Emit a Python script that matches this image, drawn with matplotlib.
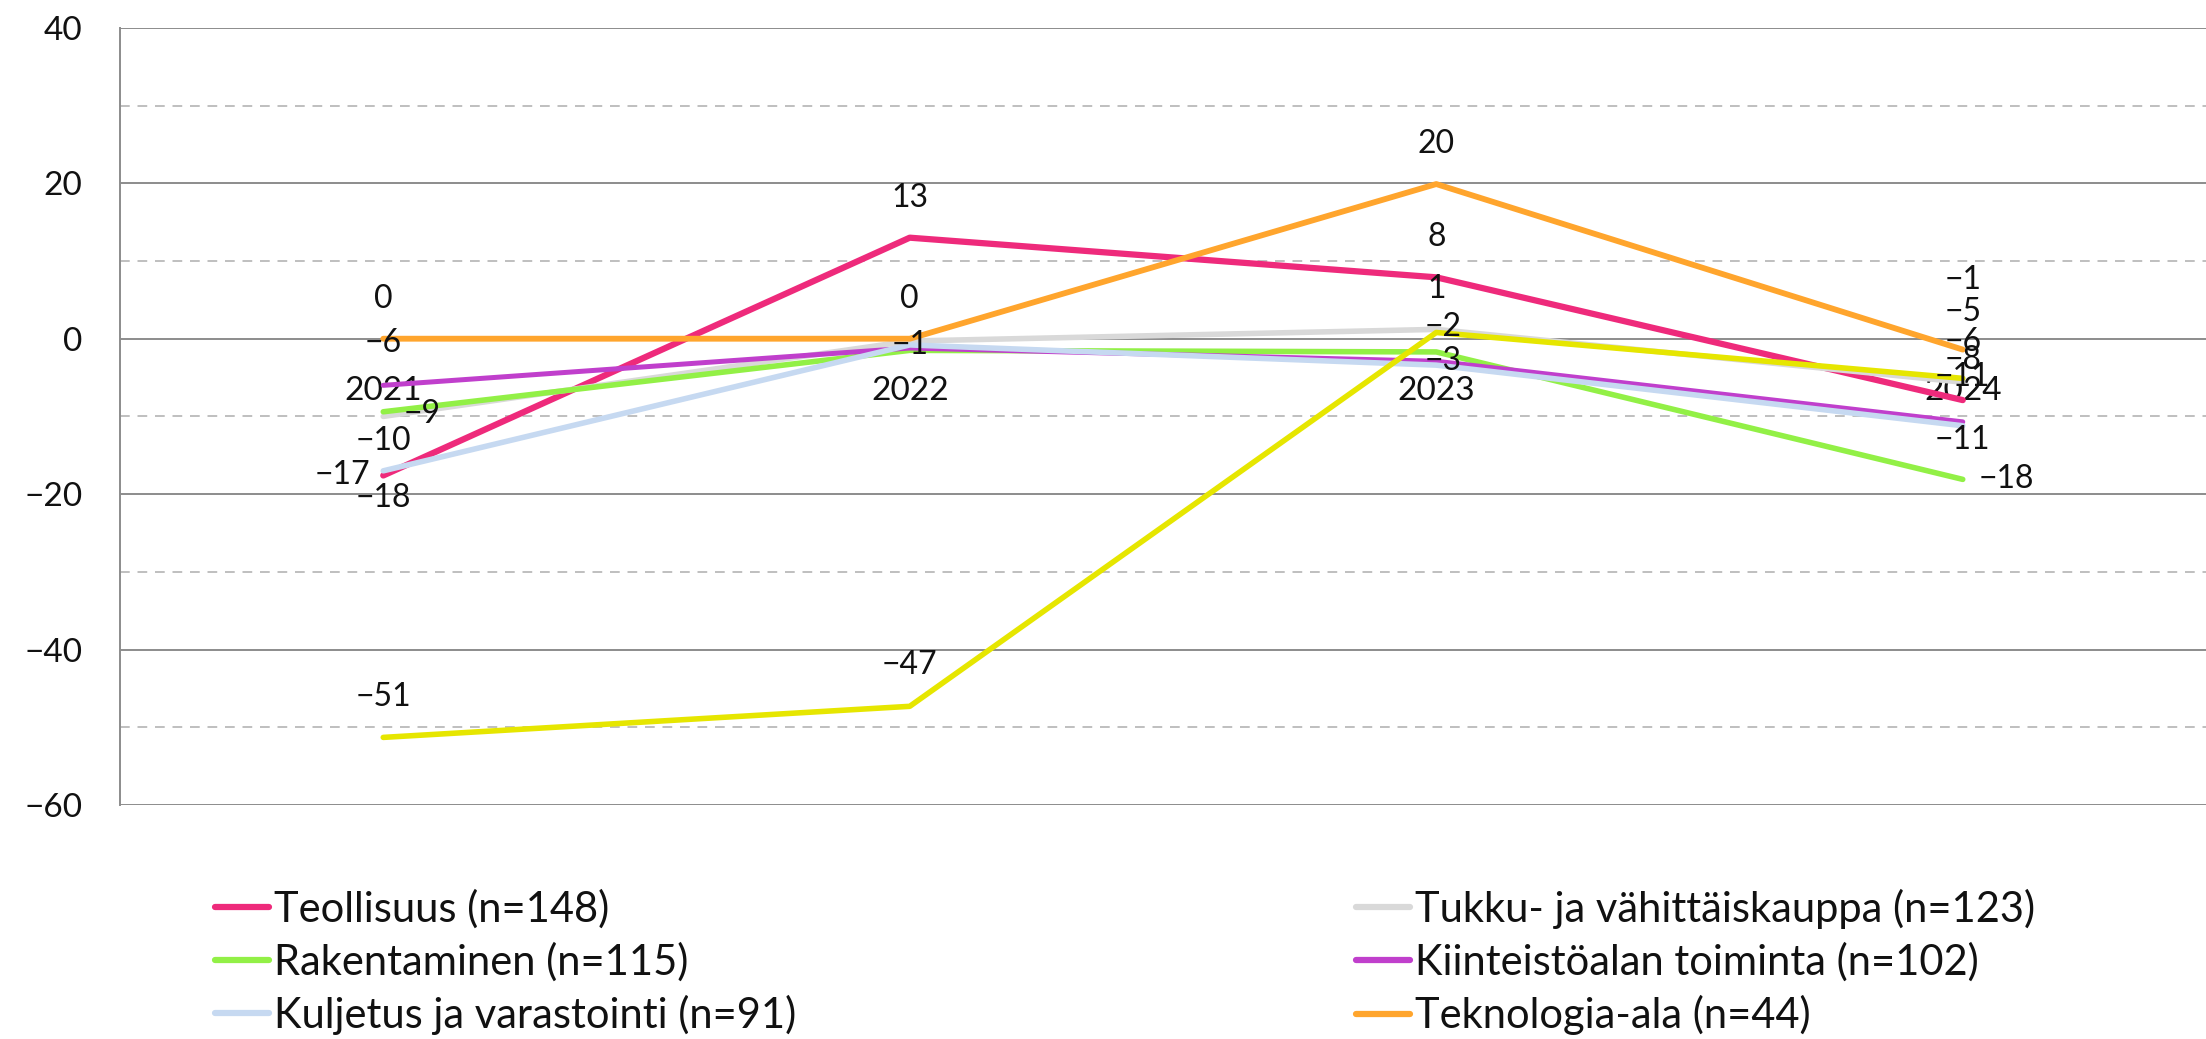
import matplotlib.pyplot as plt
from matplotlib.ticker import MultipleLocator

plt.rcParams['font.family'] = ['Lato', 'DejaVu Sans']

years = ['2021', '2022', '2023', '2024']

# values (labels show them rounded)
teollisuus = [-17.6, 13.0, 7.9, -7.9]
tukku = [-10.0, -0.3, 1.2, -5.6]
rakentaminen = [-9.4, -1.5, -1.7, -18.1]
kiinteisto = [-6.0, -1.2, -2.9, -10.7]
kuljetus = [-17.0, -0.8, -3.4, -11.2]
teknologia = [0.0, 0.0, 19.9, -1.4]
seitsemas = [-51.3, -47.3, 0.8, -5.1]  # its legend row is cut off in the source

names = ['Teollisuus (n=148)', 'Tukku- ja vähittäiskauppa (n=123)',
         'Rakentaminen (n=115)', 'Kiinteistöalan toiminta (n=102)',
         'Kuljetus ja varastointi (n=91)', 'Teknologia-ala (n=44)', None]
series = [teollisuus, tukku, rakentaminen, kiinteisto, kuljetus, teknologia, seitsemas]

colors = ['#EE2A7B', '#D9D9D9', '#92F046', '#C03FCC', '#C6D9F1', '#FFA52D', '#E6E600']
widths = [4.5, 4.0, 4.0, 3.6, 4.0, 4.2, 4.0]

# data label offsets in pixels (None = label hidden under another one)
label_offsets = [
    [(0, -23), (0, 40), (0, 40), (0, 40)],
    [(0, -25), None, (0, 40), (0, 40)],
    [(39, -2), None, (7, 25), (44, 0)],
    [(0, 42), None, (7, 0), (0, 45)],
    [(-41, -4), (0, 0), None, (0, -14)],
    [(0, 40), (0, 40), (0, 40), (0, 70)],
    [(0, 40), (0, 41), None, (0, 66)],
]

text_col = '#111111'

fig = plt.figure(figsize=(22.06, 10.39), dpi=100)
ax = fig.add_axes([120 / 2206, 0.2252, 1 - 120 / 2206, 0.748])

x = list(range(len(years)))
lines = []
for vals, name, c, lw in zip(series, names, colors, widths):
    ln, = ax.plot(x, vals, color=c, lw=lw, solid_capstyle='round', zorder=3,
                  label=name if name else '_nolegend_')
    lines.append(ln)

for vals, offs in zip(series, label_offsets):
    for i, v in enumerate(vals):
        if offs[i] is None:
            continue
        txt = str(int(round(v))).replace('-', '\u2212')
        ax.annotate(txt, (i, v), xytext=offs[i], textcoords='offset pixels',
                    ha='center', va='center', fontsize=23, color=text_col, zorder=5)

ax.set_xlim(-0.5, 3.462)
ax.set_ylim(-60, 40)
ax.yaxis.set_major_locator(MultipleLocator(20))
ax.yaxis.set_minor_locator(MultipleLocator(10))
ax.grid(which='major', axis='y', color='#8c8c8c', lw=1.4, zorder=1)
ax.grid(which='minor', axis='y', color='#bfbfbf', lw=1.4, ls=(0, (5, 4)), zorder=1)
ax.set_axisbelow(True)

ax.set_xticks(x)
ax.set_xticklabels(years)
ax.spines['bottom'].set_position(('data', 0))
ax.spines['bottom'].set_visible(False)
ax.spines['top'].set_visible(False)
ax.spines['right'].set_visible(False)
ax.spines['left'].set_color('#8c8c8c')
ax.spines['left'].set_linewidth(1.4)
ax.tick_params(axis='x', length=0, pad=27, labelsize=24, labelcolor=text_col)
ax.tick_params(axis='y', which='both', length=0, pad=27, labelsize=24, labelcolor=text_col)
for t in ax.get_xticklabels():
    t.set_zorder(6)

# legend as two columns, rows read across like the source
leg_kw = dict(frameon=False, fontsize=30, handlelength=1.3, handletextpad=0.12,
              labelspacing=0.32, borderpad=0, borderaxespad=0, loc='center left')
col1 = [lines[0], lines[2], lines[4]]
col2 = [lines[1], lines[3], lines[5]]
for handles, xpos in [(col1, 215 / 2206), (col2, 1356 / 2206)]:
    leg = fig.legend(handles=handles, labels=[h.get_label() for h in handles],
                     bbox_to_anchor=(xpos, 1 - 962 / 1039), **leg_kw)
    for h in leg.legend_handles:
        h.set_linewidth(4.5)
    for t in leg.get_texts():
        t.set_color(text_col)

fig.savefig('out.png', dpi=100)
